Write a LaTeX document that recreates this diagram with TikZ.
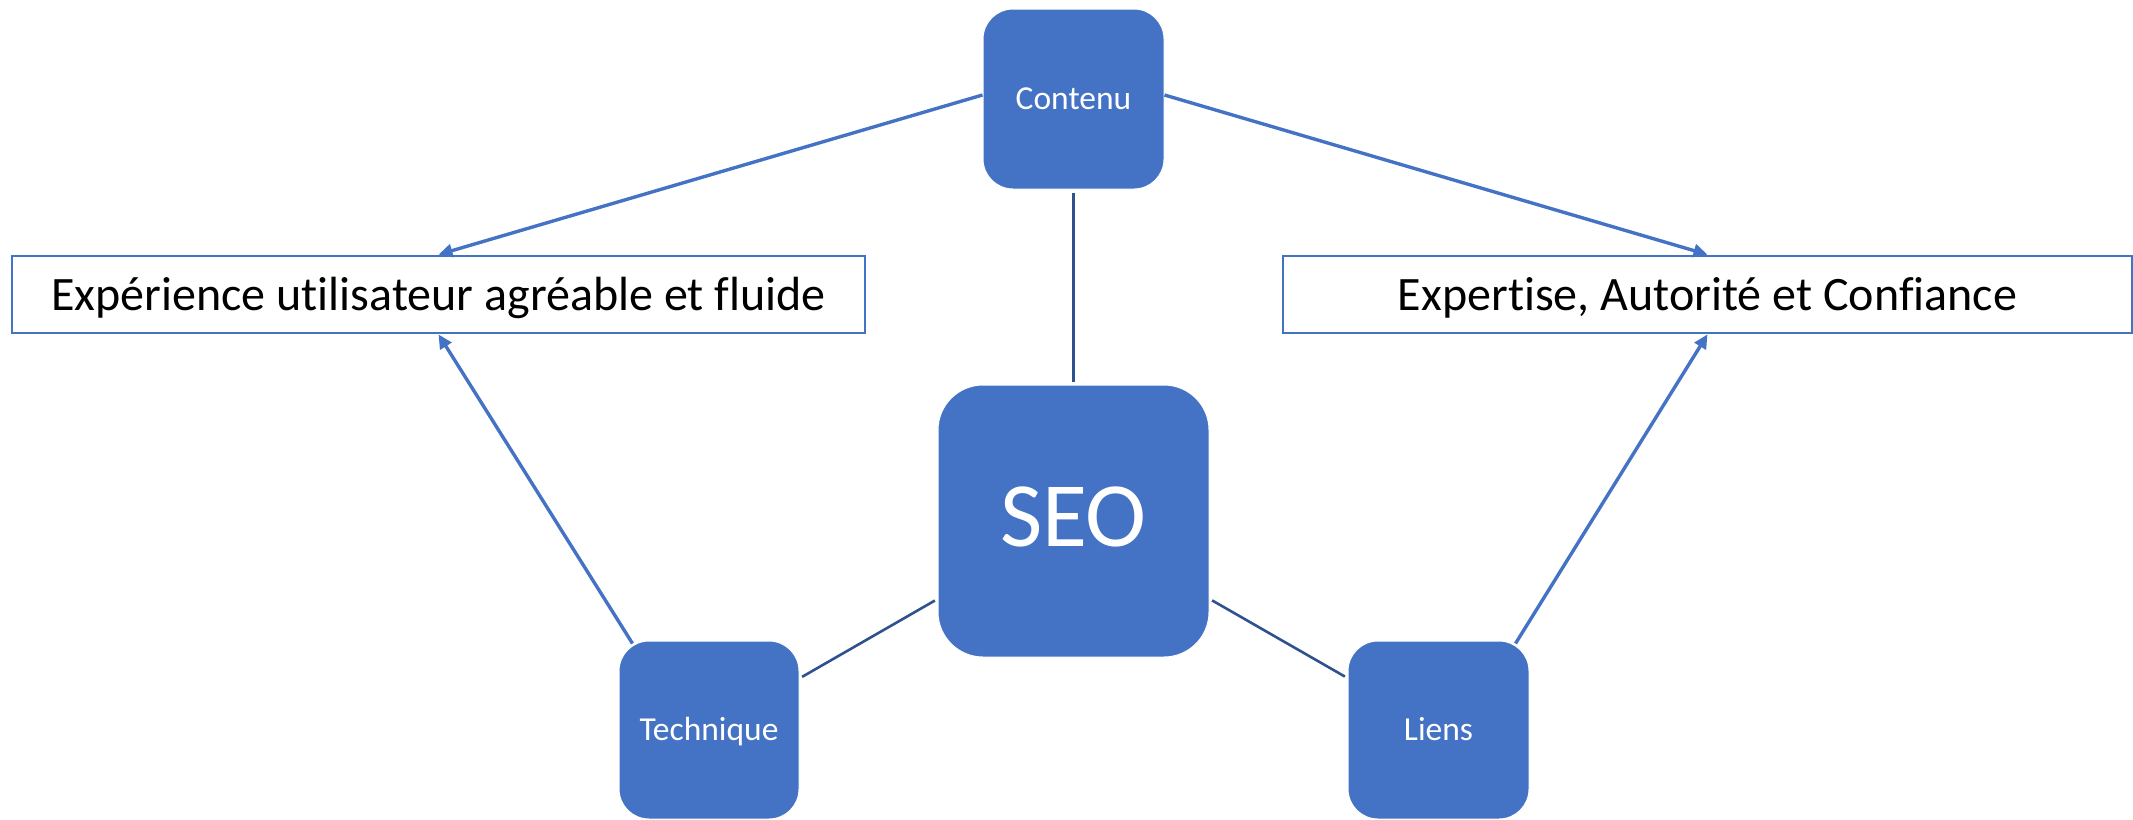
\documentclass[tikz,border=0pt]{standalone}
\usepackage{fontspec}
\setmainfont[Ligatures=NoCommon]{Carlito}
\usetikzlibrary{arrows.meta}
\definecolor{accent}{HTML}{4472C4}
\definecolor{linkdark}{HTML}{2F528F}
\tikzset{
  bluebox/.style={rectangle, rounded corners=30pt, fill=accent, draw=white, line width=1pt,
    text=white, inner sep=0pt, align=center},
  smalltxt/.style={font=\fontsize{33.5}{40}\selectfont, text height=21.6pt, text depth=0pt},
  goalbox/.style={rectangle, draw=accent, line width=2.8pt, fill=white, inner sep=0pt,
    font=\fontsize{48}{58}\selectfont, text height=31pt, text depth=0pt, minimum height=77pt},
  arrowline/.style={draw=accent, line width=3.4pt, -{Triangle[length=14pt,width=13pt]}},
  plainline/.style={draw=linkdark, line width=2.6pt, shorten <=3pt, shorten >=3pt},
}
\begin{document}
\begin{tikzpicture}[x=1pt, y=-1pt]
  \useasboundingbox (0,0) rectangle (2133,819);
  % blue boxes
  \node[bluebox, smalltxt, minimum width=181pt, minimum height=180pt] (contenu) at (1073.5,99) {Contenu};
  \node[bluebox, rounded corners=45pt, minimum width=271pt, minimum height=272pt,
        font=\fontsize{92}{100}\selectfont, text height=59pt, text depth=8pt] (seo) at (1073.5,521) {SEO};
  \node[bluebox, smalltxt, minimum width=180pt, minimum height=178pt] (technique) at (709,730) {Technique};
  \node[bluebox, smalltxt, minimum width=181pt, minimum height=178pt] (liens) at (1438.5,730) {Liens};
  % goal boxes
  \node[goalbox, minimum width=853pt] (ux) at (438.5,294.5) {Expérience utilisateur agréable et fluide};
  \node[goalbox, minimum width=849pt] (eat) at (1707.5,294.5) {Expertise, Autorité et Confiance};
  % plain connectors
  \draw[plainline] (contenu) -- (seo);
  \draw[plainline] (seo) -- (technique);
  \draw[plainline] (seo) -- (liens);
  % arrows
  \draw[arrowline] ([yshift=4pt]contenu.west) -- (ux.north);
  \draw[arrowline] ([yshift=4pt]contenu.east) -- (eat.north);
  \draw[arrowline] ([shift={(14,3)}]technique.north west) -- (ux.south);
  \draw[arrowline] ([shift={(-14,3)}]liens.north east) -- (eat.south);
\end{tikzpicture}
\end{document}
